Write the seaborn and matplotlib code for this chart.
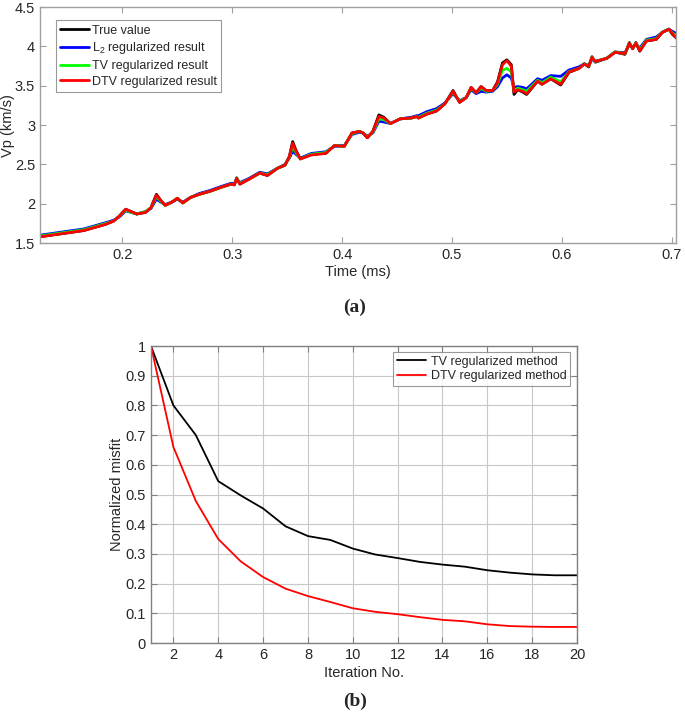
import numpy as np
import pandas as pd
import matplotlib
matplotlib.use("Agg")
import matplotlib.pyplot as plt
import seaborn as sns

# ---- panel (a): velocity profiles ----
time_ms = [0.125, 0.135, 0.145, 0.155, 0.165, 0.175, 0.185, 0.192, 0.197, 0.203,
           0.208, 0.213, 0.221, 0.226, 0.231, 0.235, 0.239, 0.245, 0.250, 0.255,
           0.262, 0.270, 0.280, 0.290, 0.299, 0.302, 0.304, 0.307, 0.315, 0.325,
           0.332, 0.341, 0.348, 0.352, 0.355, 0.358, 0.362, 0.372, 0.385, 0.393,
           0.402, 0.409, 0.416, 0.419, 0.423, 0.428, 0.4335, 0.438, 0.444, 0.453,
           0.463, 0.468, 0.4695, 0.477, 0.486, 0.4935, 0.501, 0.507, 0.513, 0.5175,
           0.522, 0.5265, 0.531, 0.537, 0.5415, 0.546, 0.550, 0.554, 0.5565, 0.560,
           0.5645, 0.568, 0.578, 0.582, 0.590, 0.599, 0.6065, 0.6155, 0.6205, 0.6245,
           0.6275, 0.6305, 0.641, 0.6485, 0.6575, 0.6615, 0.6645, 0.6675, 0.671, 0.677,
           0.686, 0.6915, 0.6975, 0.701, 0.705]

vp_true = [1.58, 1.60, 1.62, 1.64, 1.66, 1.70, 1.74, 1.78, 1.84, 1.93,
           1.90, 1.87, 1.89, 1.95, 2.12, 2.04, 1.98, 2.02, 2.07, 2.01,
           2.08, 2.12, 2.16, 2.21, 2.25, 2.24, 2.33, 2.25, 2.31, 2.39,
           2.36, 2.45, 2.49, 2.60, 2.79, 2.68, 2.57, 2.63, 2.64, 2.74,
           2.73, 2.90, 2.92, 2.90, 2.84, 2.92, 3.13, 3.10, 3.02, 3.08,
           3.09, 3.11, 3.09, 3.14, 3.18, 3.27, 3.44, 3.29, 3.35, 3.48,
           3.41, 3.49, 3.44, 3.44, 3.55, 3.79, 3.83, 3.77, 3.39, 3.45,
           3.42, 3.39, 3.56, 3.52, 3.59, 3.51, 3.67, 3.72, 3.78, 3.74,
           3.87, 3.80, 3.85, 3.93, 3.90, 4.05, 3.97, 4.05, 3.94, 4.07,
           4.09, 4.18, 4.22, 4.15, 4.10]

vp_l2 = [1.60, 1.62, 1.64, 1.66, 1.68, 1.72, 1.76, 1.79, 1.83, 1.91,
         1.89, 1.87, 1.90, 1.94, 2.06, 2.02, 1.99, 2.02, 2.06, 2.02,
         2.08, 2.13, 2.17, 2.22, 2.26, 2.26, 2.31, 2.27, 2.32, 2.40,
         2.38, 2.45, 2.50, 2.58, 2.67, 2.63, 2.58, 2.64, 2.66, 2.73,
         2.74, 2.88, 2.91, 2.90, 2.86, 2.90, 3.05, 3.04, 3.02, 3.08,
         3.10, 3.12, 3.12, 3.17, 3.21, 3.28, 3.40, 3.31, 3.35, 3.45,
         3.40, 3.43, 3.42, 3.43, 3.49, 3.60, 3.64, 3.60, 3.48, 3.49,
         3.48, 3.46, 3.59, 3.57, 3.63, 3.62, 3.70, 3.74, 3.78, 3.76,
         3.84, 3.81, 3.85, 3.93, 3.92, 4.02, 3.99, 4.03, 3.98, 4.09,
         4.12, 4.18, 4.22, 4.19, 4.16]

vp_tv = [1.59, 1.61, 1.63, 1.65, 1.67, 1.71, 1.75, 1.78, 1.84, 1.92,
         1.89, 1.87, 1.90, 1.95, 2.09, 2.03, 1.98, 2.02, 2.07, 2.01,
         2.08, 2.12, 2.16, 2.21, 2.25, 2.25, 2.32, 2.26, 2.31, 2.39,
         2.37, 2.45, 2.49, 2.59, 2.73, 2.65, 2.57, 2.63, 2.65, 2.74,
         2.73, 2.89, 2.92, 2.90, 2.85, 2.91, 3.08, 3.07, 3.02, 3.08,
         3.09, 3.11, 3.10, 3.15, 3.19, 3.27, 3.42, 3.30, 3.35, 3.47,
         3.41, 3.47, 3.43, 3.44, 3.52, 3.70, 3.72, 3.68, 3.44, 3.47,
         3.45, 3.43, 3.57, 3.54, 3.61, 3.55, 3.68, 3.72, 3.78, 3.75,
         3.86, 3.81, 3.85, 3.93, 3.91, 4.04, 3.98, 4.04, 3.96, 4.08,
         4.10, 4.18, 4.22, 4.17, 4.13]

vp_dtv = [1.58, 1.60, 1.62, 1.64, 1.66, 1.70, 1.74, 1.78, 1.84, 1.93,
          1.90, 1.87, 1.89, 1.95, 2.11, 2.04, 1.98, 2.02, 2.07, 2.01,
          2.08, 2.12, 2.16, 2.21, 2.25, 2.24, 2.32, 2.25, 2.31, 2.39,
          2.36, 2.45, 2.49, 2.60, 2.77, 2.67, 2.57, 2.62, 2.64, 2.74,
          2.73, 2.90, 2.92, 2.90, 2.84, 2.92, 3.11, 3.09, 3.02, 3.08,
          3.09, 3.11, 3.09, 3.14, 3.18, 3.27, 3.43, 3.29, 3.35, 3.48,
          3.41, 3.49, 3.44, 3.44, 3.54, 3.77, 3.82, 3.75, 3.42, 3.45,
          3.43, 3.40, 3.56, 3.52, 3.59, 3.52, 3.675, 3.72, 3.775, 3.75,
          3.86, 3.81, 3.85, 3.925, 3.91, 4.04, 3.975, 4.04, 3.945, 4.07,
          4.09, 4.18, 4.22, 4.16, 4.10]

series_a = ["True value", "L$_2$ regularized result",
            "TV regularized result", "DTV regularized result"]
colors_a = ["#000000", "#0000ff", "#00ff00", "#ff0000"]

# ---- panel (b): misfit curves ----
iterations = list(range(1, 21))
misfit_tv = [1.0, 0.80, 0.70, 0.545, 0.497, 0.453, 0.393, 0.36, 0.347, 0.318,
             0.298, 0.286, 0.273, 0.264, 0.257, 0.245, 0.237, 0.231, 0.228, 0.228]
misfit_dtv = [1.0, 0.66, 0.478, 0.35, 0.275, 0.222, 0.183, 0.158, 0.138, 0.117,
              0.105, 0.097, 0.087, 0.078, 0.073, 0.063, 0.057, 0.055, 0.054, 0.054]
series_b = ["TV regularized method", "DTV regularized method"]
colors_b = ["#000000", "#ff0000"]

sns.set_theme(style="ticks")
plt.rcParams["font.family"] = ["Liberation Sans", "DejaVu Sans"]
plt.rcParams["mathtext.default"] = "regular"
plt.rcParams["xtick.direction"] = "in"
plt.rcParams["ytick.direction"] = "in"

df_a = pd.DataFrame({
    "Time (ms)": time_ms * 4,
    "Vp (km/s)": vp_true + vp_l2 + vp_tv + vp_dtv,
    "series": np.repeat(series_a, len(time_ms)),
})
df_b = pd.DataFrame({
    "Iteration No.": iterations * 2,
    "Normalized misfit": misfit_tv + misfit_dtv,
    "series": np.repeat(series_b, len(iterations)),
})

fig = plt.figure(figsize=(6.85, 7.17), dpi=100)
ax1 = fig.add_axes([0.0584, 0.661, 0.9285, 0.329])
ax2 = fig.add_axes([0.2204, 0.1032, 0.622, 0.4142])

spine_col = "#a0a0a0"
text_col = "#262626"

# (a)
sns.lineplot(data=df_a, x="Time (ms)", y="Vp (km/s)", hue="series",
             hue_order=series_a, palette=colors_a, linewidth=2.0,
             sort=False, ax=ax1)
ax1.set_xlim(0.125, 0.704)
ax1.set_ylim(1.5, 4.5)
ax1.set_xticks([0.2, 0.3, 0.4, 0.5, 0.6, 0.7])
ax1.set_xticklabels(["0.2", "0.3", "0.4", "0.5", "0.6", "0.7"])
ax1.set_yticks([1.5, 2, 2.5, 3, 3.5, 4, 4.5])
ax1.set_yticklabels(["1.5", "2", "2.5", "3", "3.5", "4", "4.5"])
ax1.set_xlabel("Time (ms)", fontsize=10.5, color=text_col, labelpad=2)
ax1.set_ylabel("Vp (km/s)", fontsize=10.5, color=text_col, labelpad=0)
ax1.tick_params(top=True, right=True, labelsize=10.5, colors=text_col,
                color=spine_col, length=4, width=0.8)
for s in ax1.spines.values():
    s.set_color(spine_col)
    s.set_linewidth(1.0)
leg1 = ax1.legend(loc="upper left", bbox_to_anchor=(0.025, 0.945),
                  borderaxespad=0, fontsize=9, frameon=True, fancybox=False,
                  handlelength=2.3, handletextpad=0.2, labelspacing=0.3,
                  borderpad=0.35)
leg1.get_frame().set_edgecolor("#808080")
leg1.get_frame().set_linewidth(0.8)
for line in leg1.get_lines():
    line.set_linewidth(2.0)

# (b)
sns.lineplot(data=df_b, x="Iteration No.", y="Normalized misfit", hue="series",
             hue_order=series_b, palette=colors_b, linewidth=1.3, ax=ax2)
ax2.set_xlim(1, 20)
ax2.set_ylim(0, 1)
ax2.set_xticks(range(2, 21, 2))
ax2.set_yticks(np.arange(0, 1.01, 0.1))
ax2.set_yticklabels(["0", "0.1", "0.2", "0.3", "0.4", "0.5", "0.6", "0.7",
                     "0.8", "0.9", "1"])
ax2.grid(True, color="#c8c8c8", linewidth=0.8)
ax2.set_xlabel("Iteration No.", fontsize=10.5, color=text_col, labelpad=3)
ax2.set_ylabel("Normalized misfit", fontsize=10.5, color=text_col, labelpad=1)
ax2.tick_params(top=True, right=True, labelsize=10.5, colors=text_col,
                color="#808080", length=4, width=0.8)
for s in ax2.spines.values():
    s.set_color("#808080")
    s.set_linewidth(1.0)
leg2 = ax2.legend(loc="upper right", bbox_to_anchor=(0.984, 0.98),
                  borderaxespad=0, fontsize=9, frameon=True, fancybox=False,
                  handlelength=2.3, handletextpad=0.4, labelspacing=0.2,
                  borderpad=0.3)
leg2.get_frame().set_edgecolor("#808080")
leg2.get_frame().set_linewidth(0.8)

fig.text(0.518, 0.572, "(a)", ha="center", va="center", fontsize=14,
         fontweight="bold", family=["Liberation Serif", "DejaVu Serif"])
fig.text(0.518, 0.022, "(b)", ha="center", va="center", fontsize=14,
         fontweight="bold", family=["Liberation Serif", "DejaVu Serif"])

fig.savefig("out.png", dpi=100)
